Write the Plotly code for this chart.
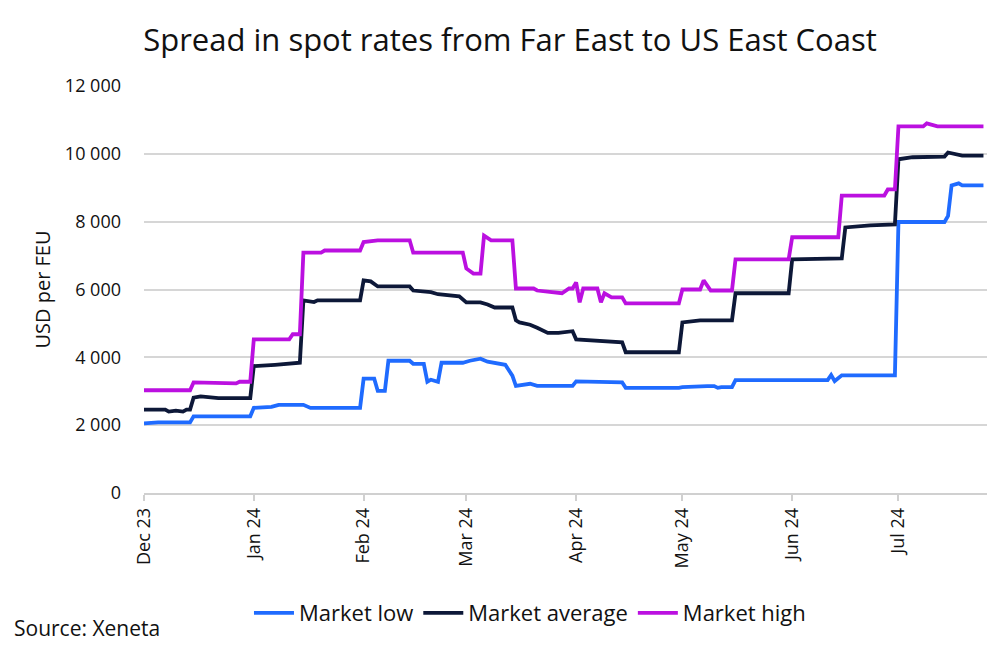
import plotly.graph_objects as go

# ---- Data ----
high_dates = ["2023-12-01","2023-12-14","2023-12-15","2023-12-22","2023-12-27","2023-12-28","2023-12-31",
              "2024-01-01","2024-01-11","2024-01-12","2024-01-14","2024-01-15","2024-01-20","2024-01-21","2024-01-31",
              "2024-02-01","2024-02-05","2024-02-14","2024-02-15","2024-02-29",
              "2024-03-01","2024-03-03","2024-03-05","2024-03-06","2024-03-08","2024-03-14","2024-03-15","2024-03-20",
              "2024-03-21","2024-03-28","2024-03-30","2024-03-31",
              "2024-04-01","2024-04-02","2024-04-03","2024-04-07","2024-04-08","2024-04-09","2024-04-11","2024-04-14",
              "2024-04-15","2024-04-30",
              "2024-05-01","2024-05-06","2024-05-07","2024-05-09","2024-05-15","2024-05-16","2024-05-31",
              "2024-06-01","2024-06-14","2024-06-15","2024-06-27","2024-06-28","2024-06-30",
              "2024-07-01","2024-07-08","2024-07-09","2024-07-12","2024-07-25"]
high_values = [3030,3030,3260,3230,3230,3280,3280,
               4530,4530,4680,4680,7090,7090,7150,7150,
               7400,7450,7450,7090,7090,
               6620,6470,6470,7590,7450,7450,6030,6030,
               5970,5890,6030,6030,
               6210,5620,6030,6030,5620,5890,5770,5770,
               5590,5590,
               6000,6000,6270,5970,5970,6890,6890,
               7540,7540,8770,8770,8950,8950,
               10810,10810,10900,10810,10810]

avg_dates = ["2023-12-01","2023-12-07","2023-12-08","2023-12-10","2023-12-12","2023-12-13","2023-12-14",
             "2023-12-15","2023-12-17","2023-12-22","2023-12-31",
             "2024-01-01","2024-01-07","2024-01-12","2024-01-14","2024-01-15","2024-01-18","2024-01-19","2024-01-31",
             "2024-02-01","2024-02-03","2024-02-05","2024-02-14","2024-02-15","2024-02-20","2024-02-22","2024-02-28",
             "2024-03-01","2024-03-05","2024-03-07","2024-03-09","2024-03-14","2024-03-15","2024-03-16","2024-03-19",
             "2024-03-21","2024-03-24","2024-03-27","2024-03-31",
             "2024-04-01","2024-04-08","2024-04-14","2024-04-15","2024-04-30",
             "2024-05-01","2024-05-06","2024-05-15","2024-05-16","2024-05-31",
             "2024-06-01","2024-06-15","2024-06-16","2024-06-23","2024-06-30",
             "2024-07-01","2024-07-05","2024-07-14","2024-07-15","2024-07-19","2024-07-25"]
avg_values = [2460,2460,2400,2430,2400,2460,2460,
              2810,2850,2800,2800,
              3740,3780,3810,3840,5680,5630,5680,5680,
              6270,6240,6090,6090,5970,5920,5860,5800,
              5620,5620,5560,5470,5470,5090,5030,4960,
              4870,4720,4720,4770,
              4530,4470,4440,4150,4150,
              5030,5090,5090,5890,5890,
              6890,6920,7830,7890,7920,
              9840,9900,9920,10040,9950,9950]

low_dates = ["2023-12-01","2023-12-05","2023-12-14","2023-12-15","2023-12-31",
             "2024-01-01","2024-01-06","2024-01-08","2024-01-15","2024-01-17","2024-01-31",
             "2024-02-01","2024-02-04","2024-02-05","2024-02-07","2024-02-08","2024-02-14","2024-02-15","2024-02-18",
             "2024-02-19","2024-02-20","2024-02-22","2024-02-23","2024-02-29",
             "2024-03-02","2024-03-05","2024-03-07","2024-03-09","2024-03-12","2024-03-14","2024-03-15","2024-03-19",
             "2024-03-21","2024-03-31",
             "2024-04-01","2024-04-14","2024-04-15","2024-04-30",
             "2024-05-01","2024-05-08","2024-05-10","2024-05-11","2024-05-12","2024-05-15","2024-05-16",
             "2024-06-11","2024-06-12","2024-06-13","2024-06-15","2024-06-30",
             "2024-07-01","2024-07-14","2024-07-15","2024-07-16","2024-07-18","2024-07-19","2024-07-25"]
low_values = [2050,2080,2080,2260,2260,
              2510,2540,2600,2600,2510,2510,
              3370,3370,3010,3010,3900,3900,3810,3810,
              3280,3340,3280,3840,3840,
              3900,3960,3870,3840,3780,3460,3160,3220,
              3160,3160,
              3290,3260,3100,3100,
              3120,3150,3150,3100,3120,3120,3330,
              3330,3480,3300,3470,3470,
              7990,7990,8170,9070,9130,9070,9070]

series_names = ["Market low", "Market average", "Market high"]
colors = ["#1f6bff", "#0d1838", "#bb10e0"]

y_ticks = [0, 2000, 4000, 6000, 8000, 10000, 12000]

FONT = "Open Sans"
TXT = "#111111"

fig = go.Figure()
for name, xs, ys, c in zip(series_names,
                           [low_dates, avg_dates, high_dates],
                           [low_values, avg_values, high_values],
                           colors):
    fig.add_trace(go.Scatter(x=xs, y=ys, mode="lines", name=name,
                             line=dict(color=c, width=3.8)))

fig.update_layout(
    width=999, height=657,
    paper_bgcolor="white", plot_bgcolor="white",
    separators=". ",
    font=dict(family=FONT, color=TXT),
    title=dict(text="Spread in spot rates from Far East to US East Coast",
               x=0.5025, xanchor="center", xref="container",
               y=0.951, yanchor="middle", yref="container",
               font=dict(family=FONT, size=31, color=TXT)),
    margin=dict(l=136, r=20, t=78, b=172, autoexpand=False),
    showlegend=True,
    legend=dict(orientation="h", xref="container", x=0.5225, xanchor="center",
                yref="container", y=0.079, yanchor="middle",
                font=dict(family=FONT, size=22, color=TXT),
                itemwidth=40, tracegroupgap=0),
    annotations=[dict(text="Source: Xeneta", xref="paper", yref="paper",
                      x=-0.1566, y=-0.332, xanchor="left", yanchor="middle",
                      showarrow=False, font=dict(family=FONT, size=21, color=TXT))],
)

fig.update_xaxes(
    type="date", range=["2023-12-01", "2024-07-26"],
    tick0="2023-12-01", dtick="M1", tickformat="%b %y", tickangle=-90,
    ticks="outside", ticklen=6, tickcolor="#d0d0d0", tickwidth=1.5,
    showline=True, linecolor="#d0d0d0", linewidth=1.5,
    showgrid=False, zeroline=False, automargin=False,
    tickfont=dict(family=FONT, size=18, color=TXT),
)
fig.update_yaxes(
    range=[0, 12000], tickvals=y_ticks, tickformat=",d",
    showgrid=True, gridcolor="#d6d6d6", gridwidth=1.5,
    zeroline=False, showline=False, ticks="", automargin=False,
    tickfont=dict(family=FONT, size=18, color=TXT),
    ticklabelstandoff=22,
    title=dict(text="USD per FEU", font=dict(family=FONT, size=20, color=TXT), standoff=8),
)

fig.write_html("out.html")
